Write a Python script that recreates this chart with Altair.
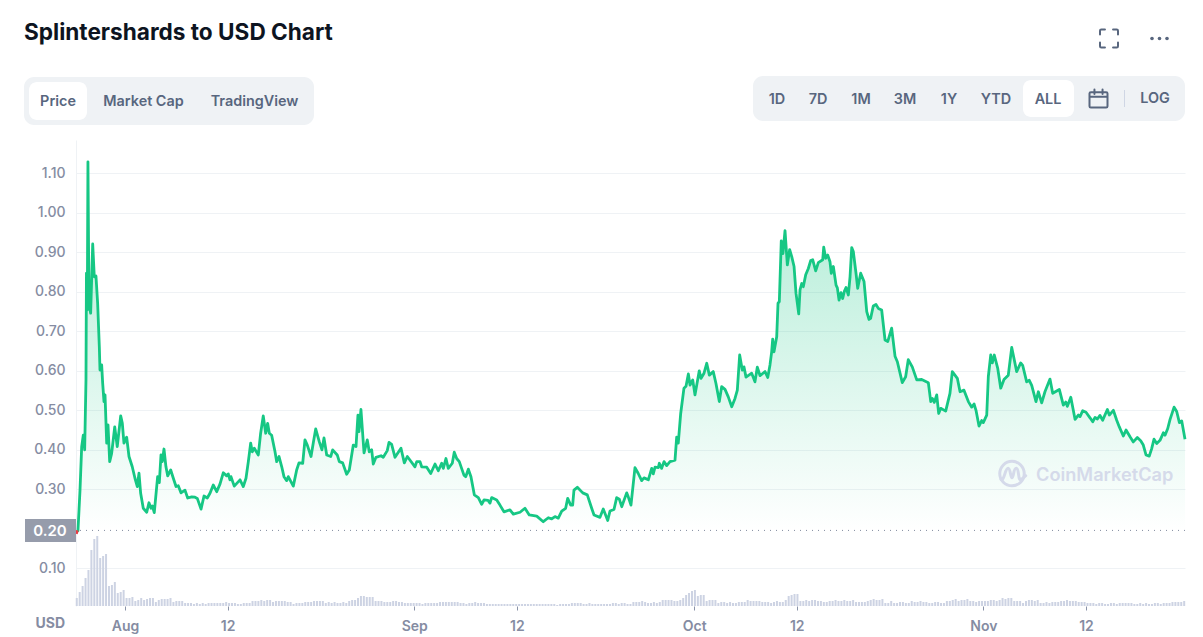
import altair as alt
import pandas as pd

# ---- data ----
base_ms = 1627776000000  # 1 Aug 2021 UTC
day_ms = 86400000
start_day, end_day = -5.25, 113.61

days = [
 -5.10,-5.04,-4.82,-4.64,-4.47,-4.32,-4.18,-4.13,-4.04,-3.97,
 -3.86,-3.68,-3.46,-3.29,-3.11,-2.93,-2.75,-2.68,-2.50,-2.39,
 -2.25,-2.14,-1.96,-1.82,-1.64,-1.43,-1.10,-.83,-.46,-.29,
 -.11,.18,.43,.78,1.07,1.32,1.50,1.68,1.96,2.33,
 2.57,2.79,2.93,3.14,3.40,3.50,3.68,3.86,4.00,4.18,
 4.39,4.58,4.90,5.18,5.47,5.71,6.00,6.43,6.72,7.15,
 7.50,7.75,8.15,8.47,8.82,9.11,9.46,9.83,10.18,10.54,
 10.90,11.07,11.25,11.36,11.71,12.33,12.68,12.97,13.22,13.47,
 13.64,13.86,14.29,14.54,14.82,15.08,15.29,15.47,15.72,16.08,
 16.26,16.51,16.80,17.04,17.33,17.50,18.04,18.40,18.65,19.05,
 19.29,19.54,19.94,20.18,20.44,20.83,21.11,21.33,21.62,22.05,
 22.26,22.75,22.97,23.33,23.76,24.04,24.47,24.76,24.97,25.08,
 25.29,25.62,25.97,26.18,26.44,26.61,26.90,27.44,27.68,28.11,
 28.30,28.58,28.94,29.58,29.94,30.26,31.08,31.27,31.62,31.80,
 32.34,32.77,33.23,33.58,33.94,34.12,34.40,34.65,35.08,35.29,
 35.55,35.83,36.33,36.52,36.80,37.08,37.44,37.87,38.23,38.48,
 38.91,39.12,39.30,39.84,40.19,40.62,41.26,41.62,42.34,42.87,
 43.33,44.13,44.83,45.37,45.73,46.09,46.44,46.81,47.23,47.45,
 47.77,47.98,48.12,48.48,49.06,49.55,50.02,50.27,50.91,51.26,
 51.74,51.98,52.41,52.70,52.98,53.24,53.77,53.94,54.23,54.66,
 55.01,55.38,55.63,56.09,56.45,56.62,56.81,57.16,57.27,57.52,
 57.77,58.06,58.41,58.95,59.13,59.30,59.56,59.91,60.13,60.38,
 60.56,60.85,61.09,61.55,61.74,62.06,62.35,62.63,63.05,63.34,
 63.70,63.95,64.31,64.66,65.03,65.38,65.63,65.88,66.16,66.34,
 66.56,67.17,67.52,67.77,68.06,68.60,68.89,69.13,69.31,69.42,
 69.56,69.85,69.99,70.13,70.34,70.52,70.74,70.99,71.24,71.46,
 71.71,71.92,72.21,72.35,72.53,72.70,72.96,73.24,73.49,73.71,
 74.03,74.31,74.78,74.89,75.10,75.32,75.56,75.70,75.92,76.21,
 76.35,76.53,76.74,76.92,77.10,77.28,77.53,77.71,77.89,78.06,
 78.35,78.53,78.85,79.21,79.50,79.74,79.92,80.20,80.49,80.74,
 81.10,81.46,81.75,82.17,82.53,82.78,83.31,83.67,83.95,84.38,
 84.86,85.39,86.10,86.36,86.53,86.74,87.00,87.21,87.43,87.96,
 88.42,88.67,89.21,89.50,89.92,90.39,90.75,91.00,91.21,91.53,
 91.82,91.99,92.36,92.53,92.79,92.96,93.17,93.54,93.86,94.21,
 94.67,95.04,95.57,96.00,96.21,96.64,96.92,97.18,97.64,97.89,
 98.25,98.60,99.14,99.43,99.86,100.14,100.57,100.83,101.00,101.37,
 101.83,102.18,102.36,102.65,103.00,103.43,103.72,103.97,104.22,104.50,
 104.79,105.29,105.50,105.93,106.29,106.57,107.00,107.29,107.72,108.07,
 108.50,108.86,109.14,109.43,109.78,110.04,110.29,110.58,110.93,111.29,
 111.47,111.76,112.01,112.44,112.72,113.01,113.26,113.61,
]
prices = [
 .196,.195,.298,.408,.437,.40,.577,.847,.754,1.129,
 .77,.746,.921,.838,.84,.771,.661,.602,.615,.568,
 .522,.539,.417,.463,.37,.391,.458,.408,.486,.468,
 .417,.432,.383,.357,.328,.307,.341,.29,.252,.242,
 .266,.252,.258,.241,.307,.332,.317,.387,.37,.402,
 .357,.334,.349,.328,.307,.309,.291,.298,.278,.281,
 .28,.277,.25,.283,.278,.29,.311,.294,.313,.342,
 .334,.339,.324,.332,.308,.324,.307,.328,.37,.417,
 .395,.404,.387,.442,.486,.442,.467,.442,.437,.395,
 .37,.383,.357,.332,.322,.332,.308,.349,.367,.366,
 .425,.412,.383,.417,.453,.42,.4,.43,.387,.383,
 .4,.387,.37,.367,.338,.349,.412,.408,.488,.446,
 .502,.392,.425,.395,.4,.364,.381,.385,.381,.398,
 .419,.414,.381,.404,.367,.383,.357,.37,.37,.357,
 .356,.34,.364,.347,.366,.353,.378,.353,.366,.394,
 .378,.37,.336,.332,.351,.332,.286,.279,.262,.273,
 .272,.265,.279,.273,.26,.243,.248,.237,.242,.252,
 .235,.232,.218,.228,.225,.231,.227,.245,.252,.277,
 .26,.26,.298,.305,.291,.286,.252,.235,.229,.25,
 .221,.245,.249,.279,.275,.256,.291,.281,.26,.355,
 .34,.322,.329,.324,.353,.339,.356,.355,.366,.353,
 .37,.36,.37,.374,.432,.417,.492,.556,.561,.592,
 .564,.577,.539,.6,.581,.594,.619,.589,.598,.568,
 .522,.56,.553,.534,.509,.53,.551,.64,.602,.61,
 .584,.594,.572,.609,.588,.598,.583,.615,.648,.68,
 .648,.686,.771,.775,.929,.897,.955,.868,.907,.889,
 .864,.796,.744,.805,.821,.813,.843,.859,.879,.881,
 .853,.874,.881,.913,.885,.893,.876,.847,.864,.817,
 .81,.779,.798,.783,.801,.811,.792,.838,.912,.902,
 .847,.809,.847,.826,.75,.73,.733,.764,.768,.758,
 .754,.678,.674,.708,.637,.623,.57,.585,.628,.61,
 .577,.578,.57,.522,.53,.52,.539,.492,.505,.498,
 .543,.598,.581,.547,.551,.522,.508,.516,.50,.46,
 .474,.469,.488,.585,.64,.62,.64,.606,.556,.578,
 .589,.659,.598,.62,.614,.572,.576,.563,.522,.547,
 .519,.547,.579,.543,.549,.553,.513,.521,.51,.533,
 .477,.488,.484,.499,.495,.481,.471,.482,.478,.487,
 .475,.502,.488,.5,.475,.458,.435,.45,.433,.42,
 .431,.423,.412,.387,.384,.403,.427,.416,.424,.443,
 .437,.454,.477,.508,.497,.469,.473,.427,
]
red_days = [-5.22, -5.10]
red_prices = [0.187, 0.196]
base_price = 0.196

volume_step = 0.314
volumes = [
 8,14,20,28,36,56,67,70,48,50,52,20,21,24,13,14,16,8,8,9,5,6,8,6,7,8,8,4,6,7,7,7,8,4,5,
 5,5,3,3,3,2,3,2,3,2,3,3,3,3,3,3,4,3,3,3,2,2,3,3,3,5,5,5,6,5,6,6,4,5,5,5,5,4,4,2,3,3,3,4,4,4,
 5,5,5,5,3,4,3,4,3,3,4,3,5,6,6,8,10,10,9,9,9,5,5,5,4,4,4,5,5,4,4,3,3,3,3,3,3,2,3,3,3,3,3,4,4,4,
 4,4,4,4,3,3,2,3,3,4,3,3,3,2,2,2,2,2,
 2,2,2,2,2,2,2,2,2,2,2,2,2,2,2,2,2,2,2,1,2,2,2,2,3,3,3,3,2,2,3,2,2,2,2,2,2,2,3,3,2,3,3,2,2,4,4,4,5,4,3,
 3,4,3,4,6,6,6,6,5,5,6,8,11,13,15,16,10,11,11,5,6,6,6,3,4,4,3,4,3,3,4,4,4,6,5,5,5,5,4,4,4,3,4,5,
 4,4,6,10,11,12,12,5,5,6,5,6,6,5,5,4,4,5,5,6,5,5,6,5,5,6,4,4,
 4,4,5,6,7,6,6,7,3,3,5,3,3,4,4,3,3,5,4,4,5,4,4,3,3,4,4,3,3,5,5,6,7,5,6,6,7,5,5,4,5,5,5,5,6,6,
 5,6,8,7,8,8,5,5,5,3,5,6,6,5,6,3,3,4,3,4,4,4,5,5,6,5,5,5,4,4,4,3,3,3,2,
 3,3,2,2,3,3,2,3,3,3,3,3,2,2,3,2,3,2,2,3,3,2,3,3,3,4,4,4,4,5,
]

y_ticks = [0.10, 0.30, 0.40, 0.50, 0.60, 0.70, 0.80, 0.90, 1.00, 1.10]
x_tick_days = [0, 11, 31, 42, 61, 72, 92, 103]
range_labels = ["1D", "7D", "1M", "3M", "1Y", "YTD", "ALL"]
range_centers = [777, 818, 861, 905, 949, 996, 1048]

# ---- layout helpers: page pixel -> plot-group pixel ----
PLOT_L, PLOT_T, PLOT_R, PLOT_B = 76, 140, 1185, 606
W, H = PLOT_R - PLOT_L, PLOT_B - PLOT_T
px = lambda v: v - PLOT_L
py = lambda v: v - PLOT_T

FONT = "Inter"
GREEN = "#16c784"
GRID = "#eff2f5"
AXIS_TEXT = "#858ca2"
UI_TEXT = "#58667e"

def ms(d):
    return base_ms + d * day_ms

price_df = pd.DataFrame({"t": [ms(d) for d in days], "price": prices, "base": base_price})
red_df = pd.DataFrame({"t": [ms(d) for d in red_days], "price": red_prices})
vol_df = pd.DataFrame({"t": [ms(start_day + 0.08 + i * volume_step) for i in range(len(volumes))], "vol": volumes})
vol_df = vol_df[vol_df.t <= ms(end_day)]

x_scale = alt.Scale(type="utc", domain=[ms(start_day), ms(end_day)], nice=False, padding=0)
y_scale = alt.Scale(domain=[0.0046, 1.1843], nice=False, zero=False)
v_scale = alt.Scale(domain=[0, H], nice=False, zero=False, padding=0)

y_plain = alt.Y("price:Q", scale=y_scale, axis=None)

x_axis = alt.X(
    "t:T", scale=x_scale,
    axis=alt.Axis(
        values=[ms(d) for d in x_tick_days], title=None, grid=False, domain=False,
        tickColor="#8a93a8", tickSize=4, tickWidth=1, labelColor=AXIS_TEXT,
        labelFont=FONT, labelFontSize=14, labelFontWeight=600, labelPadding=9,
        labelExpr="utcdate(datum.value) == 1 ? utcFormat(datum.value, '%b') : utcFormat(datum.value, '%d')",
    ),
)
y_axis = alt.Y(
    "price:Q", scale=y_scale,
    axis=alt.Axis(
        values=y_ticks, format=".2f", title=None, grid=True, gridColor=GRID, gridWidth=1,
        domain=True, domainColor=GRID, ticks=False, labelColor=AXIS_TEXT, labelFont=FONT,
        labelFontSize=14, labelFontWeight=500, labelPadding=11,
    ),
)

area = alt.Chart(price_df).mark_area(
    line=False,
    color=alt.Gradient(
        gradient="linear", x1=0, x2=0, y1=0, y2=1,
        stops=[alt.GradientStop(color="rgba(22,199,132,0.36)", offset=0),
               alt.GradientStop(color="rgba(22,199,132,0.0)", offset=1)],
    ),
).encode(x=x_axis, y=y_axis, y2=alt.Y2("base:Q"))

volume = alt.Chart(vol_df).mark_bar(size=2, color="#cdd3e3").encode(
    x=x_axis, y=alt.Y("vol:Q", scale=v_scale, axis=None), y2=alt.datum(0))

baseline = alt.Chart(price_df.head(1)).mark_rule(color="#808a9d", strokeDash=[1, 5], strokeWidth=1).encode(
    y=alt.Y("base:Q", scale=y_scale, axis=None))

line = alt.Chart(price_df).mark_line(color=GREEN, strokeWidth=2.8, strokeJoin="round").encode(x=x_axis, y=y_plain)
red = alt.Chart(red_df).mark_line(color="#ea3943", strokeWidth=2.8).encode(x=x_axis, y=y_plain)

one = alt.Data(values=[{"a": 1}])

def box(x0, x1, y0, y1, color, radius=0):
    return alt.Chart(one).mark_rect(color=color, cornerRadius=radius).encode(
        x=alt.value(px(x0)), x2=alt.value(px(x1)), y=alt.value(py(y0)), y2=alt.value(py(y1)))

def label(s, x, y, size=14, weight=600, color=UI_TEXT, align="center"):
    return alt.Chart(one).mark_text(
        text=s, font=FONT, fontSize=size, fontWeight=weight, color=color, align=align, baseline="middle"
    ).encode(x=alt.value(px(x)), y=alt.value(py(y)))

def glyph(path, x, y, size, color=UI_TEXT, width=2):
    return alt.Chart(one).mark_point(
        shape=path, size=size, filled=False, stroke=color, strokeWidth=width, opacity=1, strokeCap="round"
    ).encode(x=alt.value(px(x)), y=alt.value(py(y)))

def dot(x, y, size=13, color=UI_TEXT):
    return alt.Chart(one).mark_circle(size=size, color=color, opacity=1).encode(x=alt.value(px(x)), y=alt.value(py(y)))

corners = ("M-1,-0.45 L-1,-0.85 Q-1,-1 -0.85,-1 L-0.45,-1 M0.45,-1 L0.85,-1 Q1,-1 1,-0.85 L1,-0.45 "
           "M1,0.45 L1,0.85 Q1,1 0.85,1 L0.45,1 M-0.45,1 L-0.85,1 Q-1,1 -1,0.85 L-1,0.45")
calendar = ("M-0.85,-0.7 L0.85,-0.7 Q1,-0.7 1,-0.55 L1,0.85 Q1,1 0.85,1 L-0.85,1 Q-1,1 -1,0.85 L-1,-0.55 "
            "Q-1,-0.7 -0.85,-0.7 M-1,-0.2 L1,-0.2 M-0.45,-1 L-0.45,-0.5 M0.45,-1 L0.45,-0.5")
logo_m = ("M-0.78,0.42 C-0.55,0.55 -0.5,-0.38 -0.28,-0.38 C-0.1,-0.38 -0.12,0.3 0,0.3 "
          "C0.12,0.3 0.1,-0.38 0.3,-0.38 C0.52,-0.38 0.42,0.5 0.62,0.42 C0.75,0.38 0.85,0.28 0.98,0.15")

ui = [
    label("Splintershards to USD Chart", 24, 32.5, size=22.6, weight=700, color="#0d1421", align="left"),
    box(24, 314, 77, 125, GRID, 10),
    box(29, 87, 82, 120, "#ffffff", 8),
    label("Price", 58, 102, size=14.4),
    label("Market Cap", 143.5, 102, size=14.4),
    label("TradingView", 254.5, 102, size=14.4),
    box(753, 1185, 76, 121, GRID, 10),
    box(1023, 1074, 80, 117, "#ffffff", 8),
    box(1124, 1125, 90, 107, "#cfd6e4"),
    label("LOG", 1155, 99, size=14.4),
    glyph(calendar, 1098.5, 98.5, 324),
    glyph(corners, 1109, 38.5, 324),
    dot(1152, 38.5), dot(1159.5, 38.5), dot(1167, 38.5),
    box(25, 76, 519, 542, "#969cab"),
    label("0.20", 50, 531, size=15, weight=600, color="#ffffff"),
    label("USD", 65, 624, size=14, weight=700, color=AXIS_TEXT, align="right"),
    glyph("circle", 1012, 473.6, 600, color="#d5daea", width=3),
    glyph(logo_m, 1012, 473.6, 784, color="#d5daea", width=3),
    label("CoinMarketCap", 1036, 476, size=18.2, weight=600, color="#d5daea", align="left"),
]
ui += [label(s, c, 100, size=14.4) for s, c in zip(range_labels, range_centers)]

chart = alt.layer(area, volume, baseline, line, red, *ui).resolve_scale(y="independent").properties(
    width=W, height=H,
    padding={"left": PLOT_L - 8, "top": PLOT_T - 8, "right": 1187 - (PLOT_R - 8), "bottom": 28},
    autosize=alt.AutoSizeParams(type="none"),
    background="white",
).configure_view(stroke=None)

chart.save("out.html", embed_options={"renderer": "svg", "actions": False})
